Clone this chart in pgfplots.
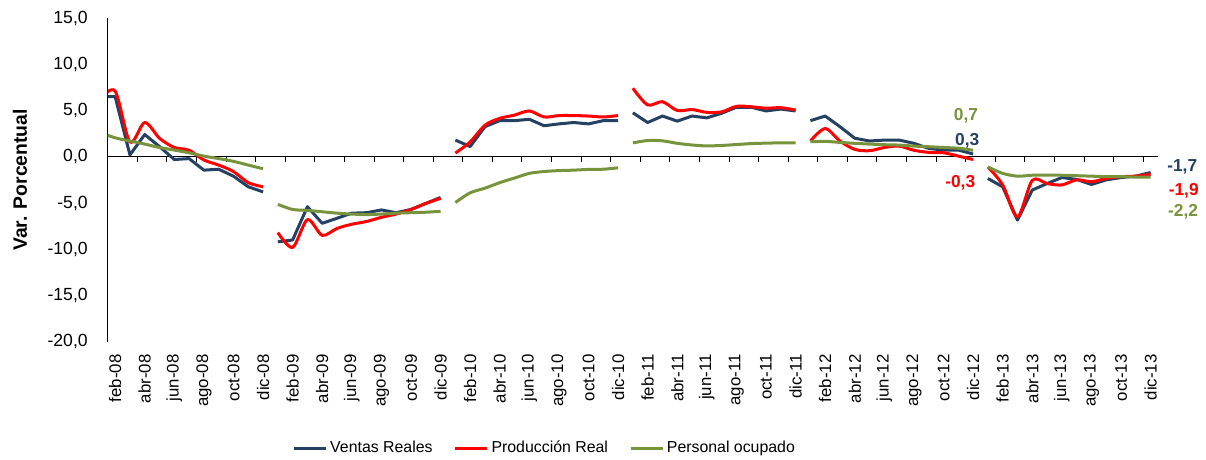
\documentclass[border=0pt]{standalone}
\usepackage{pgfplots}
\pgfplotsset{compat=1.18}
\usepackage{pgfplotstable}
\usepackage{fontspec}
\setmainfont{Liberation Sans}
\definecolor{cblue}{RGB}{36,64,98}
\definecolor{cred}{RGB}{255,0,0}
\definecolor{cgreen}{RGB}{119,147,60}

\pgfplotstableread{
x v p e
0 6.5 6.2 2.6
1 6.5 7.1 2.05
2 0.2 1.6 1.7
3 2.4 3.7 1.37
4 1.1 2.0 1.0
5 -0.3 1.0 0.72
6 -0.2 0.7 0.43
7 -1.45 -0.35 0.07
8 -1.35 -0.9 -0.2
9 -2.1 -1.6 -0.5
10 -3.25 -2.8 -0.9
11 -3.8 -3.25 -1.3
11.5 nan nan nan
12 -9.2 -8.2 -5.15
13 -9.0 -9.8 -5.7
14 -5.4 -6.8 -5.8
15 -7.2 -8.5 -5.95
16 -6.65 -7.75 -6.1
17 -6.1 -7.3 -6.2
18 -6.05 -7.0 -6.25
19 -5.75 -6.55 -6.2
20 -6.05 -6.2 -6.1
21 -5.7 -5.7 -6.05
22 -5.05 -5.05 -6.0
23 -4.4 -4.5 -5.9
23.5 nan nan nan
24 1.8 0.4 -4.95
25 1.1 1.6 -3.9
26 3.25 3.4 -3.4
27 3.9 4.15 -2.8
28 3.9 4.5 -2.3
29 4.05 4.95 -1.8
30 3.35 4.3 -1.6
31 3.55 4.45 -1.5
32 3.7 4.45 -1.45
33 3.55 4.4 -1.37
34 3.9 4.3 -1.35
35 3.9 4.45 -1.2
35.5 nan nan nan
36 4.75 7.4 1.5
37 3.7 5.6 1.75
38 4.4 5.95 1.72
39 3.85 5.0 1.45
40 4.4 5.1 1.27
41 4.2 4.8 1.17
42 4.7 4.85 1.22
43 5.35 5.45 1.32
44 5.35 5.4 1.42
45 4.95 5.25 1.47
46 5.15 5.3 1.5
47 4.95 5.05 1.5
47.5 nan nan nan
48 3.9 1.7 1.62
49 4.4 3.05 1.66
50 3.25 1.7 1.55
51 2.0 0.8 1.45
52 1.7 0.65 1.37
53 1.8 1.0 1.3
54 1.8 1.15 1.26
55 1.45 0.7 1.15
56 0.9 0.47 1.08
57 0.72 0.43 1.0
58 0.72 0.07 0.92
59 0.3 -0.3 0.7
59.5 nan nan nan
60 -2.35 -1.1 -1.1
61 -3.25 -3.05 -1.8
62 -6.85 -6.5 -2.1
63 -3.6 -2.55 -2.0
64 -2.9 -2.9 -2.0
65 -2.25 -3.05 -2.0
66 -2.45 -2.5 -2.05
67 -3.0 -2.7 -2.1
68 -2.5 -2.35 -2.15
69 -2.25 -2.15 -2.15
70 -2.1 -2.1 -2.2
71 -1.7 -1.9 -2.2
}\data

\begin{document}
\begin{tikzpicture}
\path[use as bounding box] (-80.8pt,-88pt) rectangle (823.7pt,256.3pt);
\begin{axis}[
  at={(0,0)}, anchor=south west,
  width=787.7pt, height=242.8pt, scale only axis,
  xmin=0.5, xmax=71.5, ymin=-20, ymax=15,
  axis y line*=left, axis x line*=bottom,
  x axis line style={draw=none},
  y axis line style={line width=0.75pt},
  major tick length=0pt,
  ytick={-20,-15,...,15},
  xtick={1,3,...,71},
  xticklabels={feb-08,abr-08,jun-08,ago-08,oct-08,dic-08,
               feb-09,abr-09,jun-09,ago-09,oct-09,dic-09,
               feb-10,abr-10,jun-10,ago-10,oct-10,dic-10,
               feb-11,abr-11,jun-11,ago-11,oct-11,dic-11,
               feb-12,abr-12,jun-12,ago-12,oct-12,dic-12,
               feb-13,abr-13,jun-13,ago-13,oct-13,dic-13},
  xticklabel style={rotate=90, anchor=east, font=\fontsize{12.6}{14}\selectfont, xshift=-6pt},
  yticklabel style={font=\fontsize{13.2}{15}\selectfont, xshift=-11.5pt},
  /pgf/number format/fixed,
  /pgf/number format/fixed zerofill,
  /pgf/number format/precision=1,
  /pgf/number format/use comma,
  /pgf/number format/assume math mode=true,
  ylabel={Var. Porcentual},
  ylabel style={font=\bfseries\fontsize{14.5}{16}\selectfont, at={(axis description cs:-0.0835,0.5)}, anchor=center},
  legend columns=3,
  legend style={at={(axis description cs:0.4164,-0.3284)}, anchor=center, draw=none,
     font=\fontsize{11.9}{13}\selectfont,
     /tikz/every even column/.append style={column sep=14pt}},
  legend image code/.code={\draw[#1] (0pt,0pt) -- (24pt,0pt);},
  unbounded coords=jump,
  clip mode=individual,
  every axis plot/.append style={line width=2.25pt},
]
\draw[line width=0.75pt] (axis cs:0.5,0) -- (axis cs:71.5,0);
\pgfplotsinvokeforeach{2.5,4.5,...,70.5}{\draw[line width=0.75pt] (axis cs:#1,0) -- ++(0pt,-3.75pt);}
\addplot[cblue, line join=round] table[x=x,y=v]{\data};
\addplot[cred, smooth, line join=round] table[x=x,y=p]{\data};
\addplot[cgreen, smooth, line join=round] table[x=x,y=e]{\data};
\legend{Ventas Reales, Producción Real, Personal ocupado}
\node[anchor=base, text=cgreen, font=\bfseries\fontsize{13}{15}\selectfont] at (axis cs:58.52,3.89) {0,7};
\node[anchor=base, text=cblue, font=\bfseries\fontsize{13}{15}\selectfont] at (axis cs:58.6,1.26) {0,3};
\node[anchor=base, text=cred, font=\bfseries\fontsize{13}{15}\selectfont] at (axis cs:58.13,-3.28) {-0,3};
\node[anchor=base, text=cblue, font=\bfseries\fontsize{13}{15}\selectfont] at (axis cs:73.14,-1.62) {-1,7};
\node[anchor=base, text=cred, font=\bfseries\fontsize{13}{15}\selectfont] at (axis cs:73.24,-4.14) {-1,9};
\node[anchor=base, text=cgreen, font=\bfseries\fontsize{13}{15}\selectfont] at (axis cs:73.2,-6.49) {-2,2};
\end{axis}
\end{tikzpicture}
\end{document}
